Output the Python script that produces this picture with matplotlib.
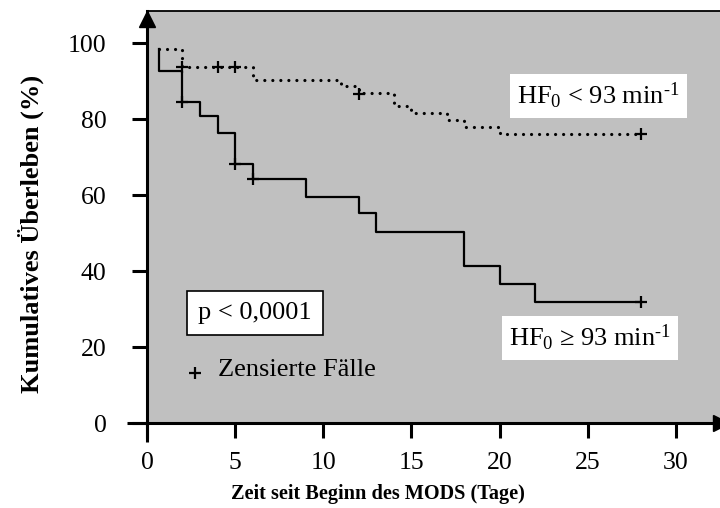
import matplotlib
matplotlib.use('Agg')
import matplotlib.pyplot as plt

plt.rcParams['font.family'] = ['Liberation Serif', 'DejaVu Serif']
plt.rcParams['mathtext.fontset'] = 'custom'
plt.rcParams['mathtext.rm'] = 'Liberation Serif'
plt.rcParams['mathtext.it'] = 'Liberation Serif:italic'
plt.rcParams['mathtext.bf'] = 'Liberation Serif:bold'

# Kaplan-Meier Daten
zeit_hoch = [0.7, 0.7, 2, 3, 4, 5, 6, 9, 12, 13, 18, 20, 22, 28]
ueberleben_hoch = [98.4, 92.6, 84.5, 80.8, 76.5, 68.3, 64.2, 59.6, 55.2, 50.3, 41.3, 36.6, 31.9, 31.9]
zeit_niedrig = [0.7, 2, 6, 11, 12, 14, 15, 17, 18, 20, 28]
ueberleben_niedrig = [98.4, 93.8, 90.4, 88.7, 86.9, 83.5, 81.7, 79.9, 78.0, 76.2, 76.2]

# zensierte Fälle
zens_hoch_x = [2, 5, 6, 28]
zens_hoch_y = [84.5, 68.3, 64.2, 31.9]
zens_niedrig_x = [2, 4, 5, 12, 28]
zens_niedrig_y = [93.8, 93.8, 93.8, 86.6, 76.2]

x_ticks = [0, 5, 10, 15, 20, 25, 30]
y_ticks = [0, 20, 40, 60, 80, 100]

fig = plt.figure(figsize=(7.2, 5.08), dpi=100)
ax = fig.add_axes([147 / 720, 85 / 508, 573 / 720, 412 / 508])
ax.set_facecolor('#c0c0c0')
ax.set_xlim(0, 32.5)
ax.set_ylim(0, 108.5)

for s in ['left', 'bottom']:
    ax.spines[s].set_linewidth(2.2)
ax.spines['top'].set_linewidth(1.3)
ax.spines['right'].set_visible(False)

ax.set_xticks(x_ticks)
ax.set_yticks(y_ticks)
ax.tick_params(direction='out', length=11, width=2.2, labelsize=18.5)
ax.tick_params(axis='x', pad=10)
ax.tick_params(axis='y', pad=18)

# Achsenverlängerungen und Pfeile
ax.plot([-1.15, 0], [0, 0], color='black', lw=2.2, clip_on=False, solid_capstyle='butt')
ax.plot([0, 0], [-4.9, 0], color='black', lw=2.2, clip_on=False, solid_capstyle='butt')
ax.plot(0, 106.3, marker='^', ms=12, color='black', clip_on=False)
ax.plot(32.55, 0, marker='>', ms=12, color='black', clip_on=False)

# Kurven
ax.step(zeit_hoch, ueberleben_hoch, where='post', color='black', lw=1.6)
ax.step(zeit_niedrig, ueberleben_niedrig, where='post', color='black', lw=2.3,
        linestyle=(0, (0.01, 2.5)), dash_capstyle='round')
ax.plot(zens_hoch_x, zens_hoch_y, '+', color='black', ms=9, mew=1.6)
ax.plot(zens_niedrig_x, zens_niedrig_y, '+', color='black', ms=9, mew=1.6)

# Beschriftungen
ax.text(21.0, 86.1, r'HF$_0$ < 93 min$^{\text{-}1}$', fontsize=19, ha='left', va='center',
        bbox=dict(facecolor='white', edgecolor='none', pad=5))
ax.text(20.55, 22.4, r'HF$_0$ ≥ 93 min$^{\text{-}1}$', fontsize=19, ha='left', va='center',
        bbox=dict(facecolor='white', edgecolor='none', pad=5))
ax.text(2.9, 29.0, 'p < 0,0001', fontsize=19, ha='left', va='center',
        bbox=dict(facecolor='white', edgecolor='black', lw=1.2, pad=8))
ax.plot(2.72, 13.2, '+', color='black', ms=9, mew=1.6)
ax.text(4.03, 14.0, 'Zensierte Fälle', fontsize=19, ha='left', va='center')

ax.set_xlabel('Zeit seit Beginn des MODS (Tage)', fontsize=14.6, fontweight='bold')
ax.xaxis.set_label_coords(0.403, -0.148)
ax.set_ylabel('Kumulatives Überleben (%)', fontsize=19, fontweight='bold')
ax.yaxis.set_label_coords(-0.18, 0.46)

fig.savefig('out.png', dpi=100)
